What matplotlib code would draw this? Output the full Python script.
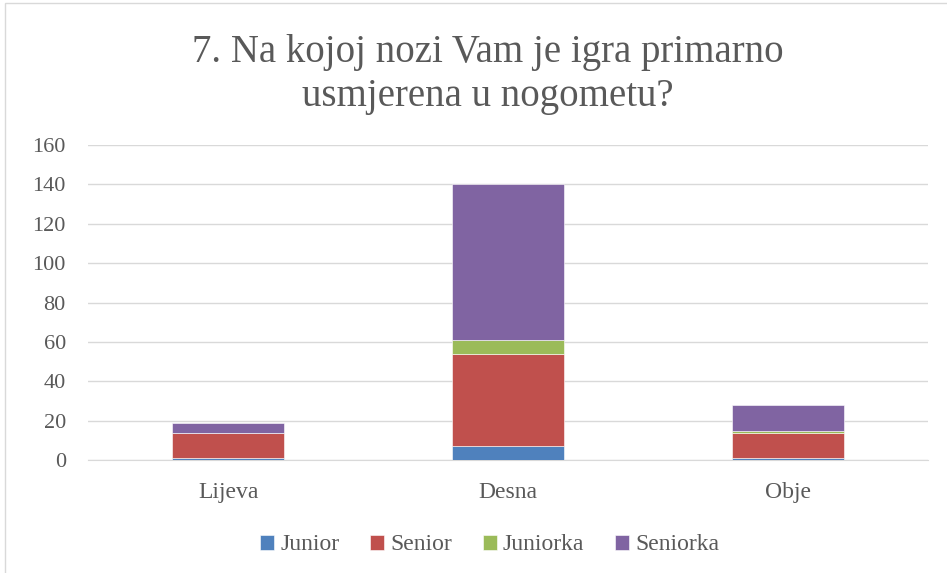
import matplotlib.pyplot as plt
import numpy as np
from matplotlib.patches import Rectangle

plt.rcParams['font.family'] = ['Liberation Serif', 'DejaVu Serif']

# data
categories = ["Lijeva", "Desna", "Obje"]
junior = [1, 7, 1]
senior = [13, 47, 13]
juniorka = [0, 7, 1]
seniorka = [5, 79, 13]

series = [("Junior", junior, "#4F81BD"),
          ("Senior", senior, "#C0504D"),
          ("Juniorka", juniorka, "#9BBB59"),
          ("Seniorka", seniorka, "#8064A2")]

text_col = "#595959"

fig = plt.figure(figsize=(9.47, 5.73), dpi=100)
ax = fig.add_axes([0.093, 0.197, 0.887, 0.55])

x = np.arange(len(categories))
bottom = np.zeros(len(categories))
for name, vals, col in series:
    ax.bar(x, vals, 0.4, bottom=bottom, color=col, label=name,
           edgecolor="white", linewidth=0.4, zorder=3)
    bottom += np.array(vals)

ax.set_xlim(-0.5, 2.5)
ax.set_ylim(0, 160)
ax.set_yticks(range(0, 161, 20))
ax.set_xticks(x)
ax.set_xticklabels(categories)
ax.grid(axis="y", color="#D9D9D9", linewidth=1, zorder=0)
for s in ["top", "right", "left"]:
    ax.spines[s].set_visible(False)
ax.spines["bottom"].set_color("#D9D9D9")
ax.tick_params(length=0, colors=text_col)
ax.tick_params(axis="x", labelsize=17, pad=16)
ax.tick_params(axis="y", labelsize=16, pad=16)

fig.text(0.515, 0.87, "7. Na kojoj nozi Vam je igra primarno\nusmjerena u nogometu?",
         ha="center", va="center", fontsize=28, color=text_col, linespacing=1.25)

ax.legend(loc="center", bbox_to_anchor=(0.517, 0.049), bbox_transform=fig.transFigure,
          ncol=4, frameon=False, fontsize=17, labelcolor=text_col,
          handlelength=0.6, handleheight=0.6, handletextpad=0.25, columnspacing=1.3)

fig.patches.append(Rectangle((5 / 947, -0.1), 1.1, 1 - 3 / 573 + 0.1,
                             transform=fig.transFigure, fill=False,
                             edgecolor="#D9D9D9", linewidth=1))

fig.savefig("out.png", dpi=100)
